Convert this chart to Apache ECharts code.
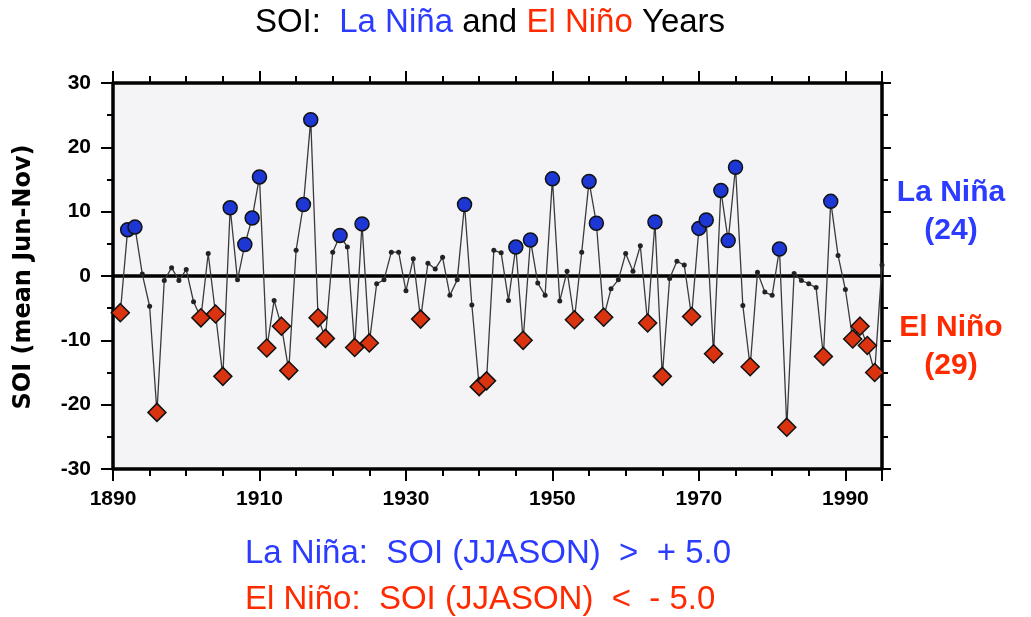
<!DOCTYPE html>
<html><head><meta charset="utf-8">
<script src="https://cdn.jsdelivr.net/npm/echarts@6/dist/echarts.min.js"></script>
<style>html,body{margin:0;padding:0;background:#fff}#c{width:1031px;height:617px}</style>
</head><body><div id="c"></div>
<script>
const years = [1891,1892,1893,1894,1895,1896,1897,1898,1899,1900,
  1901,1902,1903,1904,1905,1906,1907,1908,1909,1910,
  1911,1912,1913,1914,1915,1916,1917,1918,1919,1920,
  1921,1922,1923,1924,1925,1926,1927,1928,1929,1930,
  1931,1932,1933,1934,1935,1936,1937,1938,1939,1940,
  1941,1942,1943,1944,1945,1946,1947,1948,1949,1950,
  1951,1952,1953,1954,1955,1956,1957,1958,1959,1960,
  1961,1962,1963,1964,1965,1966,1967,1968,1969,1970,
  1971,1972,1973,1974,1975,1976,1977,1978,1979,1980,
  1981,1982,1983,1984,1985,1986,1987,1988,1989,1990,
  1991,1992,1993,1994,1995];
const soi = [-5.7,7.2,7.6,0.3,-4.7,-21.2,-0.7,1.3,-0.7,1.0,
  -4.0,-6.5,3.5,-5.9,-15.6,10.6,-0.6,4.9,9.0,15.4,
  -11.2,-3.8,-7.8,-14.7,4.0,11.1,24.3,-6.5,-9.7,3.7,
  6.3,4.5,-11.1,8.1,-10.4,-1.2,-0.6,3.7,3.7,-2.3,
  2.7,-6.7,2.0,1.1,2.9,-3.0,-0.6,11.1,-4.5,-17.2,
  -16.3,4.0,3.6,-3.8,4.5,-10.0,5.6,-1.1,-3.0,15.1,
  -3.9,0.75,-6.8,3.7,14.7,8.2,-6.4,-2.0,-0.6,3.5,
  0.75,4.7,-7.3,8.4,-15.6,-0.4,2.3,1.7,-6.3,7.4,
  8.7,-12.1,13.3,5.5,16.9,-4.6,-14.1,0.6,-2.5,-3.0,
  4.2,-23.5,0.4,-0.7,-1.2,-1.8,-12.5,11.6,3.2,-2.1,
  -9.8,-7.8,-10.8,-15.0,1.7];
const laNinaYears = [1892,1893,1906,1908,1909,1910,1916,1917,1921,1924,1938,1945,1947,1950,1955,1956,1964,1970,1971,1973,1974,1975,1981,1988];
const elNinoYears = [1891,1896,1902,1904,1905,1911,1913,1914,1918,1919,1923,1925,1932,1940,1941,1946,1953,1957,1963,1965,1969,1972,1977,1982,1987,1991,1992,1993,1994];
const xTickLabels = [1890,1910,1930,1950,1970,1990];
const yTickLabels = [-30,-20,-10,0,10,20,30];

const BLUE_TXT = '#2b3bff', RED_TXT = '#ff2a00';
const items = years.map((y, i) => {
  if (laNinaYears.includes(y)) return {value:[y, soi[i]], symbol:'circle', symbolSize:14,
    itemStyle:{color:'#1c37d4', borderColor:'#111', borderWidth:1.5}};
  if (elNinoYears.includes(y)) return {value:[y, soi[i]], symbol:'diamond', symbolSize:[18,18],
    itemStyle:{color:'#d9330f', borderColor:'#111', borderWidth:1.5}};
  return {value:[y, soi[i]], symbol:'circle', symbolSize:5, itemStyle:{color:'#222', borderWidth:0}};
});

const tickFont = {fontFamily:'Liberation Sans', fontWeight:'bold', fontSize:21, color:'#000'};
function xAx(pos, interval, len, showLine, labels) {
  return {type:'value', gridIndex:0, position:pos, min:1890, max:1995, interval:interval,
    axisLine:{show:showLine, onZero:false, lineStyle:{color:'#000', width:3.5}},
    axisTick:{show:true, inside:false, length:len, lineStyle:{color:'#000', width:2}},
    splitLine:{show:false},
    axisLabel: labels ? Object.assign({show:true, margin:20,
      formatter: v => xTickLabels.includes(v) ? String(v) : ''}, tickFont) : {show:false}};
}
function yAx(pos, interval, len, showLine, labels) {
  return {type:'value', gridIndex:0, position:pos, min:-30, max:30, interval:interval,
    axisLine:{show:showLine, onZero:false, lineStyle:{color:'#000', width:3.5}},
    axisTick:{show:true, inside:false, length:len, lineStyle:{color:'#000', width:2}},
    splitLine:{show:false},
    axisLabel: labels ? Object.assign({show:true, margin:22,
      formatter: v => yTickLabels.includes(v) ? String(v) : ''}, tickFont) : {show:false}};
}

const chart = echarts.init(document.getElementById('c'), null, {renderer:'canvas'});
chart.setOption({
  animation:false,
  backgroundColor:'#fff',
  grid:{left:113, top:83, width:769, height:386, show:true, backgroundColor:'#f4f4f7', borderWidth:0},
  xAxis:[xAx('bottom',5,7,true,false), xAx('bottom',20,12,false,true), xAx('top',5,7,true,false), xAx('top',20,12,false,false)],
  yAxis:[yAx('left',5,6,true,false), yAx('left',10,12,false,true), yAx('right',5,6,true,false), yAx('right',10,9,false,false)],
  series:[{
    type:'line', xAxisIndex:0, yAxisIndex:0, data:items, showAllSymbol:true,
    lineStyle:{color:'#3a3a3a', width:1.3}, z:3,
    markLine:{silent:true, symbol:'none', label:{show:false}, z:2,
      lineStyle:{color:'#000', width:3.5, type:'solid'}, data:[{yAxis:0}]}
  }],
  graphic:[
    {type:'text', x:490, y:23, style:{text:'{k|SOI:  }{b|La Niña}{k| and }{r|El Niño}{k| Years}',
      align:'center', verticalAlign:'middle',
      rich:{k:{fontFamily:'Liberation Sans', fontSize:33, fill:'#000', color:'#000'},
            b:{fontFamily:'Liberation Sans', fontSize:33, fill:BLUE_TXT, color:BLUE_TXT},
            r:{fontFamily:'Liberation Sans', fontSize:33, fill:RED_TXT, color:RED_TXT}}}},
    {type:'text', x:24, y:277, rotation:Math.PI/2, style:{text:'SOI (mean Jun-Nov)', align:'center', verticalAlign:'middle',
      font:'bold 24px "DejaVu Sans"', fill:'#000'}},
    {type:'text', x:951, y:193, style:{text:'La Niña', align:'center', verticalAlign:'middle', font:'bold 30px "Liberation Sans"', fill:BLUE_TXT}},
    {type:'text', x:951, y:231, style:{text:'(24)', align:'center', verticalAlign:'middle', font:'bold 30px "Liberation Sans"', fill:BLUE_TXT}},
    {type:'text', x:951, y:328, style:{text:'El Niño', align:'center', verticalAlign:'middle', font:'bold 30px "Liberation Sans"', fill:RED_TXT}},
    {type:'text', x:951, y:366, style:{text:'(29)', align:'center', verticalAlign:'middle', font:'bold 30px "Liberation Sans"', fill:RED_TXT}},
    {type:'text', x:245, y:554, style:{text:'La Niña:  SOI (JJASON)  >  + 5.0', align:'left', verticalAlign:'middle', font:'33px "Liberation Sans"', fill:BLUE_TXT}},
    {type:'text', x:245, y:600, style:{text:'El Niño:  SOI (JJASON)  <  - 5.0', align:'left', verticalAlign:'middle', font:'33px "Liberation Sans"', fill:RED_TXT}}
  ]
});
</script></body></html>
